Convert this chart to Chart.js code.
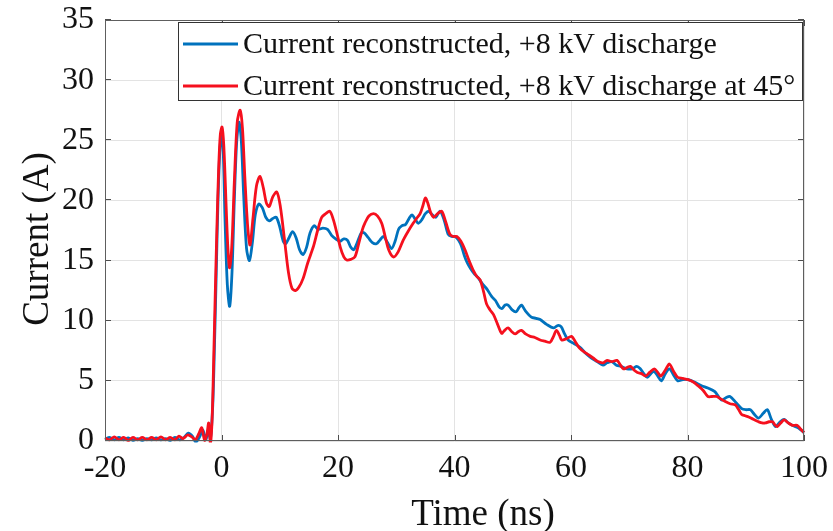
<!DOCTYPE html>
<html><head><meta charset="utf-8">
<script src="https://cdn.jsdelivr.net/npm/chart.js@4.4.1/dist/chart.umd.min.js"></script>
<style>html,body{margin:0;padding:0;background:#fff;}canvas{display:block;}</style>
</head><body>
<canvas id="c" width="833" height="531"></canvas>
<script>
// ---- data ----
const xTicks = [-20, 0, 20, 40, 60, 80, 100];
const yTicks = [0, 5, 10, 15, 20, 25, 30, 35];
const seriesLabels = ['Current reconstructed, +8 kV discharge', 'Current reconstructed, +8 kV discharge at 45°'];
const xTitle = 'Time (ns)';
const yTitle = 'Current (A)';

const blueTime = [-20,-19.2,-18.4,-17.6,-16.8,-16,-15.2,-14.4,-13.6,-12.8,-12,-11.2,-10.4,-9.6,-8.8,-8,-7.2,-6.4,-5.7,-5,-4.4,-3.8,-3.2,-2.7,-2.3,-1.9,-1.5,-1.2,-0.9,-0.6,-0.3,0,0.3,0.6,1.0,1.4,1.8,2.2,2.6,3.0,3.4,3.8,4.3,4.8,5.3,5.8,6.4,7.0,7.6,8.2,8.8,9.4,10.0,10.6,11.0,11.6,12.2,12.8,13.4,14.0,14.6,15.2,15.9,16.6,17.4,18.2,18.9,19.6,20.3,21.0,21.6,22.2,22.7,23.3,24.0,24.5,25.2,25.9,26.6,27.2,27.8,28.5,29.2,29.8,30.4,31.0,31.6,32.2,32.7,33.3,33.8,34.4,35.0,35.6,36.2,36.8,37.5,38.2,38.9,39.5,40.1,40.7,41.2,41.7,42.2,42.8,43.4,44.0,44.9,45.6,46.4,47.0,47.6,48.1,48.7,49.2,49.9,50.6,51.1,51.5,52.2,53.2,54.0,54.7,55.8,57.0,57.7,58.3,58.9,59.5,60.5,61.5,62.5,63.5,64.5,65.5,66.2,67.0,67.8,68.6,69.6,70.5,71.3,71.9,72.5,73.1,73.7,74.2,74.9,75.5,76.2,76.9,77.6,78.3,79.2,80.1,81.2,82.4,83.5,84.7,85.3,85.9,86.6,87.3,88.3,89.3,90.0,90.8,91.5,92.2,93.0,93.7,94.4,95.1,95.9,96.6,97.3,98.0,99.0,100];
const blueCurrent = [0.15,0.3,0.1,0.3,0.1,0.25,0.05,0.2,0.05,0.2,0.1,0.25,0.1,0.2,0.05,0.3,0.1,0.3,0.65,0.4,-0.1,0.3,0.9,0.1,0.8,0.2,3.0,8,14,20,24,25.6,24,18.5,13,11.2,14,20,24.8,26.5,25,20.5,16,15.0,16.5,18.8,19.7,19.4,18.6,18.3,18.5,18.6,17.8,16.6,16.4,16.9,17.4,16.9,15.9,15.5,16.1,17.3,17.9,17.6,17.7,17.6,17.1,16.8,16.6,16.8,16.7,16.1,15.9,16.5,17.3,17.3,16.9,16.5,16.4,16.7,17.0,16.5,16.0,16.6,17.6,17.9,18.0,18.5,18.8,18.4,18.1,18.4,18.9,19.1,18.8,18.6,19.1,18.4,17.2,17.0,17.0,16.7,16.2,15.4,14.8,14.3,13.9,13.6,13.0,12.6,12.0,11.7,11.2,11.0,11.3,11.3,10.9,10.75,11.1,11.3,10.8,10.3,10.2,10.1,9.7,9.4,9.6,9.5,8.9,8.4,8.1,7.8,7.3,6.9,6.6,6.3,6.5,6.6,6.3,6.2,6.0,6.0,6.2,6.0,5.6,5.3,5.6,5.8,5.4,5.0,5.6,6.0,5.5,5.0,5.1,5.1,4.9,4.6,4.4,4.1,3.7,3.4,3.6,3.7,3.2,2.7,2.6,2.6,2.2,1.9,2.3,2.6,1.8,1.2,1.6,1.8,1.5,1.3,1.1,0.7];

const redTime = [-20,-19.2,-18.4,-17.6,-16.8,-16,-15.2,-14.4,-13.6,-12.8,-12,-11.2,-10.4,-9.6,-8.8,-8,-7.3,-6.6,-5.8,-5.0,-4.5,-3.9,-3.4,-2.9,-2.5,-2.2,-1.9,-1.6,-1.3,-1.1,-0.8,-0.5,-0.2,0.1,0.4,0.8,1.1,1.4,1.8,2.2,2.7,3.2,3.6,4.0,4.5,4.9,5.4,6.0,6.6,7.2,7.7,8.2,8.8,9.5,10.1,10.8,11.5,12.1,12.7,13.3,14.0,14.8,15.8,16.5,17.2,17.9,18.6,19.2,19.8,20.4,21.0,21.5,22.2,22.9,23.6,24.2,24.6,25.3,26.1,26.8,27.5,28.1,28.7,29.5,30.3,31.2,32.0,32.9,33.5,34.1,34.6,35.0,35.4,35.9,36.4,37.1,37.8,38.5,39.2,39.8,40.4,41.1,41.8,42.5,43.2,43.8,44.4,45.0,45.5,46.1,46.7,47.4,48.1,48.6,49.2,49.8,50.4,51.0,51.5,52.2,53.0,53.8,54.7,55.5,56.4,57.0,57.5,58.0,58.4,59.2,60.1,60.8,61.5,62.6,63.8,64.6,65.5,66.2,67.0,67.9,68.5,69.0,69.6,70.2,70.8,71.4,72.1,72.8,73.5,74.3,74.9,75.4,76.2,76.9,77.6,78.3,79.2,80.1,81.0,81.8,82.7,83.5,84.2,85.0,85.7,86.4,87.3,88.2,88.8,89.3,89.9,90.5,91.3,92.2,92.8,93.4,94.0,94.6,95.0,95.4,96.0,96.6,97.3,98.0,98.8,99.4,100];
const redCurrent = [0.25,0.1,0.35,0.1,0.3,0.05,0.3,0.1,0.3,0.1,0.3,0.1,0.35,0.1,0.3,0.1,0.4,0.2,0.5,0.3,0.1,0.6,1.1,0.05,0.6,1.5,-0.2,2.0,7.6,11.7,17.5,22.5,25.5,26.1,24.5,19.5,16,14.4,16.5,21.5,26.5,27.5,26.0,22,17.8,16.3,18.5,21.2,22.0,21.0,19.8,19.5,20.3,20.7,19.5,16.8,14.0,12.7,12.5,12.8,13.5,14.8,16.2,17.5,18.6,18.9,19.1,18.4,17.3,16.1,15.3,15.05,15.1,15.3,16.5,17.6,18.1,18.7,18.9,18.7,18.1,17.0,15.9,15.3,15.7,16.7,17.4,18.1,18.5,18.9,19.6,20.2,19.8,19.0,18.6,18.9,19.1,18.2,17.2,17.0,17.0,16.6,15.9,15.0,14.2,13.7,13.4,12.4,11.4,10.9,10.5,9.7,8.95,9.2,9.4,9.1,8.9,9.1,9.2,8.9,8.7,8.6,8.4,8.3,8.2,8.7,9.2,8.8,8.4,8.5,8.7,8.2,7.7,7.3,6.9,6.6,6.5,6.7,6.6,6.7,6.3,6.0,6.1,6.2,5.9,5.7,5.6,5.4,5.7,6.0,5.7,5.4,5.9,6.4,5.8,5.3,5.2,5.1,4.9,4.6,4.2,3.7,3.7,3.7,3.5,3.3,3.1,3.0,2.6,2.2,2.1,2.0,1.8,1.6,1.5,1.5,1.6,1.6,1.35,1.2,1.5,1.75,1.5,1.3,1.3,1.0,0.7];

// ---- styles ----
const SERIF = '"Liberation Serif", "Times New Roman", serif';
const BLUE = '#0072bd';
const RED = '#f5101e';

const toPoints = (xs, ys) => xs.map((t, i) => ({x: t, y: ys[i]}));

const framePlugin = {
  id: 'frame',
  afterDraw(chart) {
    const {ctx, chartArea: a, scales: {x, y}} = chart;
    const L = Math.round(a.left), R = Math.round(a.right), T = Math.round(a.top), B = Math.round(a.bottom);
    ctx.save();
    // inner tick marks
    ctx.strokeStyle = '#4d4d4d';
    ctx.lineWidth = 1;
    ctx.beginPath();
    const tl = 6;
    xTicks.forEach(v => {
      const px = Math.round(x.getPixelForValue(v)) + 0.5;
      ctx.moveTo(px, B); ctx.lineTo(px, B - tl);
      ctx.moveTo(px, T); ctx.lineTo(px, T + tl);
    });
    yTicks.forEach(v => {
      const py = Math.round(y.getPixelForValue(v)) - 0.5;
      ctx.moveTo(L, py); ctx.lineTo(L + tl, py);
      ctx.moveTo(R, py); ctx.lineTo(R - tl, py);
    });
    ctx.stroke();
    // box
    ctx.strokeStyle = '#5e5e5e';
    ctx.strokeRect(L + 0.5, T + 0.5, R - L - 1, B - T - 1);

    // legend
    const lx = 178, ly = 22, lw = R - 2 - lx, lh = 78;
    ctx.fillStyle = '#fff';
    ctx.fillRect(lx, ly, lw, lh);
    ctx.strokeStyle = '#333';
    ctx.strokeRect(lx + 0.5, ly + 0.5, lw, lh);
    const rows = [44, 86];
    const colors = [BLUE, RED];
    ctx.font = '30px ' + SERIF;
    ctx.textBaseline = 'middle';
    ctx.textAlign = 'left';
    rows.forEach((ry, i) => {
      ctx.strokeStyle = colors[i];
      ctx.lineWidth = 2.8;
      ctx.beginPath(); ctx.moveTo(183, ry); ctx.lineTo(238, ry); ctx.stroke();
      ctx.fillStyle = '#111';
      ctx.fillText(seriesLabels[i], 243, ry + 1);
    });

    // axis titles
    ctx.font = '37px ' + SERIF;
    ctx.fillStyle = '#111';
    ctx.textAlign = 'center';
    ctx.textBaseline = 'middle';
    ctx.fillText(xTitle, 483, 515);
    ctx.translate(38, 239);
    ctx.rotate(-Math.PI / 2);
    ctx.fillText(yTitle, 0, 0);
    ctx.restore();
  }
};

new Chart(document.getElementById('c'), {
  type: 'line',
  data: {
    datasets: [
      {label: seriesLabels[0], data: toPoints(blueTime, blueCurrent), borderColor: BLUE, order: 2},
      {label: seriesLabels[1], data: toPoints(redTime, redCurrent), borderColor: RED, order: 1}
    ]
  },
  options: {
    responsive: false,
    animation: false,
    devicePixelRatio: 1,
    layout: {padding: {top: 20, right: 29, left: 0, bottom: 0}},
    plugins: {legend: {display: false}, tooltip: {enabled: false}},
    elements: {point: {radius: 0}, line: {tension: 0.3, borderWidth: 2.8, fill: false}},
    datasets: {line: {clip: 1.5}},
    scales: {
      x: {
        type: 'linear', min: -20, max: 100,
        afterBuildTicks: s => { s.ticks = xTicks.map(v => ({value: v})); },
        afterFit: s => { s.height = 90; s.paddingLeft = 0; s.paddingRight = 0; s.paddingTop = 0; s.paddingBottom = 0; },
        ticks: {font: {family: SERIF, size: 32}, color: '#111', padding: 8, maxRotation: 0, autoSkip: false},
        grid: {color: '#e3e3e3', drawTicks: false},
        border: {display: false}
      },
      y: {
        type: 'linear', min: 0, max: 35,
        afterBuildTicks: s => { s.ticks = yTicks.map(v => ({value: v})); },
        afterFit: s => { s.width = 105; s.paddingLeft = 0; s.paddingRight = 0; s.paddingTop = 0; s.paddingBottom = 0; },
        ticks: {font: {family: SERIF, size: 32}, color: '#111', padding: 11, autoSkip: false},
        grid: {color: '#e3e3e3', drawTicks: false},
        border: {display: false}
      }
    }
  },
  plugins: [framePlugin]
});
</script>
</body></html>
